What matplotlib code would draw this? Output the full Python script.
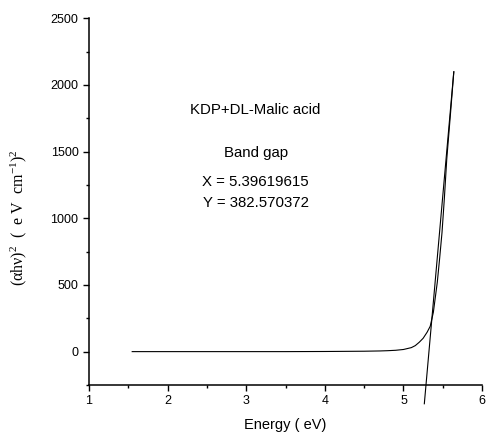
import matplotlib.pyplot as plt
from matplotlib.ticker import MultipleLocator

plt.rcParams['font.family'] = ['Liberation Sans', 'DejaVu Sans']
plt.rcParams['mathtext.fontset'] = 'custom'
plt.rcParams['mathtext.rm'] = 'Liberation Serif'
plt.rcParams['mathtext.it'] = 'Liberation Serif'

# (alpha h nu)^2 against photon energy
energy = [1.55, 2.0, 2.5, 3.0, 3.5, 4.0, 4.5, 4.7, 4.8, 4.9, 5.0, 5.1, 5.15, 5.2, 5.25,
          5.3, 5.34, 5.38, 5.43, 5.46, 5.49, 5.52, 5.55, 5.6, 5.64]
ahv2 = [0, 0, 0, 0, 0, 1, 3, 5, 7, 10, 16, 30, 45, 70, 100,
        145, 190, 295, 520, 700, 893, 1150, 1440, 1800, 2098]

# linear fit of the absorption edge
fit_x = [5.265, 5.64]
fit_y = [-391, 2098]

title = "KDP+DL-Malic acid"
gap_x = 5.39619615
gap_y = 382.570372

fig = plt.figure(figsize=(4.86, 4.43), dpi=100)
ax = fig.add_axes([0.183, 0.131, 0.809, 0.828])

ax.plot(energy, ahv2, color='black', lw=0.8)
ax.plot(fit_x, fit_y, color='black', lw=0.8, clip_on=False)

ax.set_xlim(1, 6)
ax.set_ylim(-250, 2500)
ax.xaxis.set_major_locator(MultipleLocator(1))
ax.xaxis.set_minor_locator(MultipleLocator(0.5))
ax.yaxis.set_major_locator(MultipleLocator(500))
ax.yaxis.set_minor_locator(MultipleLocator(250))
ax.tick_params(which='major', direction='out', length=4, width=1, labelsize=9)
ax.tick_params(which='minor', direction='out', length=2.5, width=1)

for s in ['top', 'right']:
    ax.spines[s].set_visible(False)
for s in ['left', 'bottom']:
    ax.spines[s].set_linewidth(1.1)

ax.set_xlabel("Energy ( eV)", fontsize=10.5, labelpad=8)
ax.set_ylabel("(αhν)$^{2}$  (  e V  cm$^{-1}$)$^{2}$", fontsize=11.5,
              fontfamily='Liberation Serif')
ax.yaxis.set_label_coords(-0.153, 0.455)

ax.text(3.12, 1814, title, ha='center', va='center', fontsize=10.8)
ax.text(3.12, 1490, "Band gap", ha='center', va='center', fontsize=10.8)
ax.text(3.12, 1274, "X = %.8f" % gap_x, ha='center', va='center', fontsize=10.8)
ax.text(3.12, 1115, "Y = %.6f" % gap_y, ha='center', va='center', fontsize=10.8)

fig.savefig('out.png', dpi=100)
